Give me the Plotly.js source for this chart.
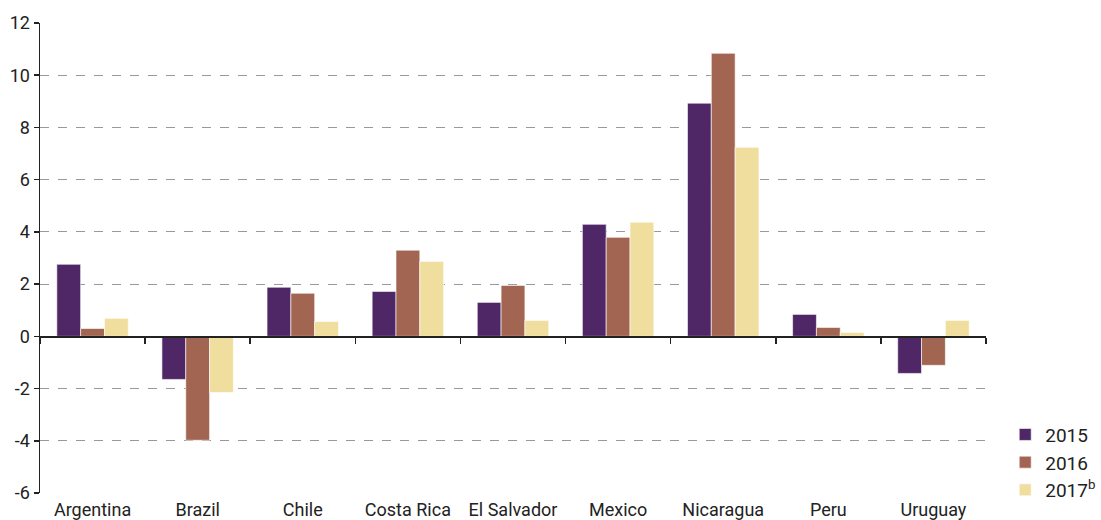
<!DOCTYPE html>
<html><head><meta charset="utf-8">
<script src="https://cdn.plot.ly/plotly-3.0.1.min.js"></script>
<style>html,body{margin:0;padding:0;background:#fff}</style>
</head><body>
<div id="chart" style="width:1101px;height:520px"></div>
<script>
const categories = ["Argentina","Brazil","Chile","Costa Rica","El Salvador","Mexico","Nicaragua","Peru","Uruguay"];
const values2015 = [2.76,-1.65,1.88,1.72,1.30,4.29,8.93,0.84,-1.42];
const values2016 = [0.30,-3.98,1.65,3.30,1.95,3.79,10.84,0.34,-1.11];
const values2017 = [0.69,-2.15,0.57,2.87,0.61,4.37,7.24,0.15,0.61];
const seriesNames = ["2015","2016","2017<sup>b</sup>"];
const colors = ["#4f2767","#a26552","#f0de9f"];
const yTicks = [-6,-4,-2,0,2,4,6,8,10,12];

const font = "Liberation Sans Narrow, Arial Narrow, Roboto, sans-serif";
const series = [values2015, values2016, values2017];
const traces = series.map((v,i)=>({
  type:"bar", x:categories, y:v, name:seriesNames[i],
  marker:{color:colors[i], line:{color:"rgba(255,255,255,0.6)", width:1}}
}));
traces.push({type:"scatter", mode:"markers", x:categories, y:categories.map(()=>null), xaxis:"x2", yaxis:"y", showlegend:false, hoverinfo:"skip"});

const layout = {
  width:1101, height:520,
  margin:{l:40, r:115, t:23, b:27, autoexpand:false},
  paper_bgcolor:"#fff", plot_bgcolor:"#fff",
  barmode:"group", bargap:0.32, bargroupgap:0,
  font:{family:font, size:18, color:"#222"},
  xaxis:{type:"category", showline:false, ticks:"", showgrid:false, zeroline:false,
         tickfont:{family:font,size:18,color:"#222"}, ticklabelstandoff:4, range:[-0.5,8.5]},
  xaxis2:{type:"category", overlaying:"x", matches:"x", anchor:"free", position:1/3,
          side:"bottom", showline:true, linecolor:"#222", linewidth:1.5,
          ticks:"outside", ticklen:6, tickwidth:1.5, tickcolor:"#222", tickson:"boundaries",
          showticklabels:false, showgrid:false, zeroline:false, range:[-0.5,8.5]},
  yaxis:{range:[-6,12], tickvals:yTicks, ticktext:yTicks.map(String),
         showline:true, linecolor:"#222", linewidth:1.5, ticks:"outside", ticklen:5, tickwidth:1.5, tickcolor:"#222",
         showgrid:true, gridcolor:"#999", griddash:"dash", gridwidth:1,
         zeroline:false, tickfont:{family:font,size:18,color:"#222"}},
  legend:{xref:"container", yref:"container", x:0.913, xanchor:"left", y:0.02, yanchor:"bottom",
          font:{family:font,size:19,color:"#222"},
          tracegroupgap:0, itemwidth:30, bgcolor:"rgba(0,0,0,0)"},
  showlegend:true
};
Plotly.newPlot("chart", traces, layout, {displayModeBar:false, staticPlot:true});
</script>
</body></html>
